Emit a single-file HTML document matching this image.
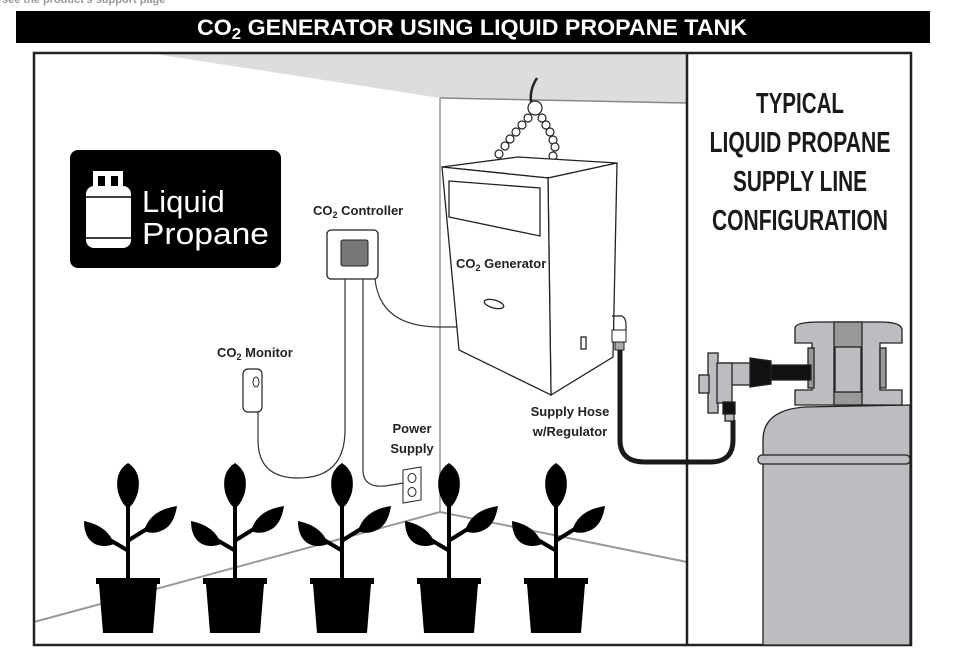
<!DOCTYPE html>
<html><head><meta charset="utf-8"><style>
html,body{margin:0;padding:0;background:#fff;width:964px;height:655px;overflow:hidden}
svg{display:block}
text{font-family:"Liberation Sans Narrow","Liberation Sans",sans-serif;font-weight:bold}
</style></head><body>
<svg width="964" height="655" viewBox="0 0 964 655" xmlns="http://www.w3.org/2000/svg">
<text x="2" y="3" font-size="11" fill="#999" font-weight="normal">see the product's support page</text>
<rect x="16" y="11" width="914" height="32" fill="#000"/>
<text x="472" y="35" font-size="22" fill="#fff" text-anchor="middle" textLength="550" lengthAdjust="spacingAndGlyphs">CO<tspan font-size="16" dy="4">2</tspan><tspan dy="-4"> GENERATOR USING LIQUID PROPANE TANK</tspan></text>

<polygon points="155,54 687,54 687,103 440,98" fill="#dcdddf"/>
<line x1="440" y1="98" x2="687" y2="103" stroke="#888" stroke-width="1.5"/>
<line x1="440" y1="98" x2="440" y2="512" stroke="#999" stroke-width="1.5"/>
<line x1="34" y1="622" x2="440" y2="512" stroke="#999" stroke-width="2"/>
<line x1="440" y1="512" x2="687" y2="562" stroke="#999" stroke-width="2"/>
<rect x="34" y="53" width="877" height="592" fill="none" stroke="#222" stroke-width="2.5"/>
<line x1="687" y1="53" x2="687" y2="645" stroke="#222" stroke-width="2.5"/>

<rect x="70" y="150" width="211" height="118" rx="8" fill="#000"/>
<rect x="93" y="171" width="30" height="5" fill="#fff"/>
<rect x="93" y="171" width="5" height="15" fill="#fff"/>
<rect x="118" y="171" width="5" height="15" fill="#fff"/>
<rect x="105" y="174" width="6" height="12" fill="#fff"/>
<rect x="86" y="186" width="45" height="62" rx="8" fill="#fff"/>
<line x1="86" y1="197" x2="131" y2="197" stroke="#000" stroke-width="1.5"/>
<line x1="86" y1="238" x2="131" y2="238" stroke="#000" stroke-width="1.5"/>
<text x="142" y="212" font-size="31" fill="#fff" style="font-family:'Liberation Sans',sans-serif;font-weight:normal">Liquid</text>
<text x="142" y="244" font-size="31" fill="#fff" style="font-family:'Liberation Sans',sans-serif;font-weight:normal" textLength="127" lengthAdjust="spacingAndGlyphs">Propane</text>

<text x="313" y="215" font-size="13" fill="#222">CO<tspan font-size="9" dy="3">2</tspan><tspan dy="-3"> Controller</tspan></text>
<rect x="327" y="230" width="51" height="49" rx="4" fill="#fff" stroke="#222" stroke-width="1.3"/>
<rect x="341" y="240" width="27" height="26" rx="2" fill="#777" stroke="#222"/>
<g fill="none" stroke="#333" stroke-width="1.2">
<path d="M345,279 L345,430 Q345,478 298,478 Q258,478 258,440 L258,412"/>
<path d="M363,279 L363,470 Q363,488 385,486 L410,482"/>
<path d="M375,279 Q380,327 440,327 L457,327"/>
</g>
<text x="217" y="357" font-size="13" fill="#222">CO<tspan font-size="9" dy="3">2</tspan><tspan dy="-3"> Monitor</tspan></text>
<rect x="243" y="369" width="19" height="43" rx="5" fill="#fff" stroke="#222" stroke-width="1.2"/>
<ellipse cx="256" cy="382" rx="3" ry="5" fill="none" stroke="#222"/>
<text x="412" y="433" font-size="13" fill="#222" text-anchor="middle">Power</text>
<text x="412" y="453" font-size="13" fill="#222" text-anchor="middle">Supply</text>
<polygon points="403,470 421,467 421,500 403,503" fill="#fff" stroke="#222"/>
<ellipse cx="412" cy="478" rx="4" ry="4.5" fill="none" stroke="#222"/>
<ellipse cx="412" cy="492" rx="4" ry="4.5" fill="none" stroke="#222"/>

<g fill="#fff" stroke="#222" stroke-width="1.2">
<path d="M537,78 Q528,92 532,106" fill="none" stroke-width="2.5"/>
<circle cx="535" cy="108" r="7"/>
<circle cx="528" cy="118" r="4"/><circle cx="522" cy="125" r="4"/><circle cx="516" cy="132" r="4"/><circle cx="510" cy="139" r="4"/><circle cx="505" cy="146" r="4"/><circle cx="499" cy="154" r="4"/>
<circle cx="542" cy="118" r="4"/><circle cx="546" cy="125" r="4"/><circle cx="550" cy="132" r="4"/><circle cx="553" cy="140" r="4"/><circle cx="555" cy="147" r="4"/><circle cx="553" cy="156" r="4"/>
</g>
<g stroke="#222" stroke-width="1.3" fill="#fff">
<polygon points="442,167 518,157 617,163 548,178"/>
<polygon points="548,178 617,163 613,357 551,395"/>
<polygon points="442,167 548,178 551,395 459,350"/>
<polygon points="449,181 540,188 540,236 449,217"/>
<ellipse cx="494" cy="304" rx="10" ry="4" transform="rotate(15 494 304)"/>
<rect x="581" y="337" width="5" height="12"/>
</g>
<text x="456" y="268" font-size="13" fill="#222">CO<tspan font-size="9" dy="3">2</tspan><tspan dy="-3"> Generator</tspan></text>
<path d="M612,316 L622,316 Q626,318 626,325 L626,330" fill="none" stroke="#222" stroke-width="1.2"/>
<rect x="612" y="330" width="14" height="12" fill="#fff" stroke="#222"/>
<rect x="615" y="342" width="9" height="8" fill="#aaa" stroke="#222"/>
<path d="M620,350 L620,440 Q620,462 645,462 L710,462 Q733,462 733,440 L733,420" fill="none" stroke="#1a1a1a" stroke-width="5"/>
<text x="570" y="416" font-size="13" fill="#222" text-anchor="middle">Supply Hose</text>
<text x="570" y="436" font-size="13" fill="#222" text-anchor="middle">w/Regulator</text>

<g stroke="#222" stroke-width="1.3">
<path d="M763,645 L763,440 Q763,410 805,407 L910,405 L910,645 Z" fill="#bcbdc0"/>
<rect x="758" y="455" width="152" height="9" rx="4" fill="#bcbdc0"/>
<path d="M795,328 Q795,322 820,322 L880,322 Q902,322 902,330 L902,343 L880,343 L880,390 L902,390 L902,405 L795,405 L795,390 L812,390 L812,343 L795,343 Z" fill="#bcbdc0"/>
<rect x="834" y="322" width="28" height="83" fill="#999"/>
<rect x="835" y="347" width="26" height="45" fill="#bcbdc0"/>
<rect x="808" y="348" width="6" height="40" fill="#999"/>
<rect x="880" y="348" width="6" height="40" fill="#999"/>
<rect x="771" y="365" width="40" height="15" fill="#111"/>
<polygon points="750,358 771,361 771,384 750,387" fill="#111"/>
<rect x="722" y="363" width="28" height="22" fill="#bcbdc0"/>
<rect x="708" y="353" width="10" height="60" fill="#bcbdc0"/>
<rect x="699" y="375" width="10" height="18" fill="#bcbdc0"/>
<rect x="717" y="363" width="15" height="40" fill="#bcbdc0"/>
<rect x="723" y="402" width="12" height="12" fill="#111"/>
<rect x="725" y="414" width="9" height="7" fill="#bcbdc0"/>
</g>

<g fill="#1a1a1a" font-size="29" text-anchor="middle">
<text x="800" y="113" textLength="88" lengthAdjust="spacingAndGlyphs">TYPICAL</text>
<text x="800" y="152" textLength="181" lengthAdjust="spacingAndGlyphs">LIQUID PROPANE</text>
<text x="800" y="191" textLength="134" lengthAdjust="spacingAndGlyphs">SUPPLY LINE</text>
<text x="800" y="230" textLength="176" lengthAdjust="spacingAndGlyphs">CONFIGURATION</text>
</g>

<defs>
<g id="plant" fill="#000">
<rect x="-2" y="490" width="4" height="90"/>
<path d="M0,463 Q14,472 10,492 Q6,505 0,508 Q-6,505 -10,492 Q-14,472 0,463Z"/>
<path d="M1,540 L22,527" stroke="#000" stroke-width="4"/>
<path d="M16,531 Q22,510 49,506 Q46,525 35,530 Q25,535 16,531Z"/>
<path d="M-1,550 L-18,540" stroke="#000" stroke-width="4"/>
<path d="M-14,544 Q-20,526 -44,521 Q-44,538 -33,544 Q-24,548 -14,544Z"/>
<rect x="-32" y="578" width="64" height="6"/>
<polygon points="-29,584 29,584 25,633 -25,633"/>
</g>
</defs>
<use href="#plant" x="128"/>
<use href="#plant" x="235"/>
<use href="#plant" x="342"/>
<use href="#plant" x="449"/>
<use href="#plant" x="556"/>
</svg>
</body></html>
